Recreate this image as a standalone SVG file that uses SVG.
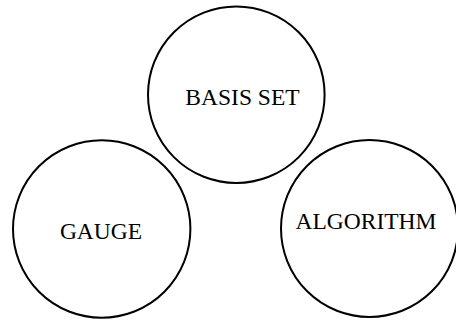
<svg xmlns="http://www.w3.org/2000/svg" width="456" height="325" viewBox="0 0 456 325">
<style>
.c{fill:#fff;stroke:#000;stroke-width:2}
.t{font-family:"Liberation Serif","Times New Roman",serif;font-size:23.5px;fill:#000;text-anchor:middle}
</style>
<rect width="456" height="325" fill="#fff"/>
<g id="connectors"></g>
<g id="basis">
<circle class="c" cx="236.3" cy="94.7" r="88.3"/>
<text class="t" x="242.5" y="104.5">BASIS SET</text>
</g>
<g id="gauge">
<circle class="c" cx="101.7" cy="229" r="88.7"/>
<text class="t" x="101" y="239.3">GAUGE</text>
</g>
<g id="algorithm">
<circle class="c" cx="369.5" cy="228.5" r="88.5"/>
<text class="t" x="366" y="229.3">ALGORITHM</text>
</g>
</svg>
